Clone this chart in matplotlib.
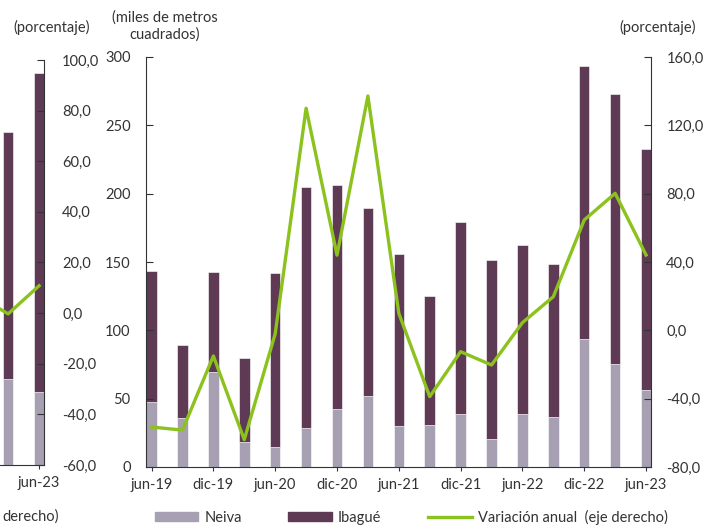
import matplotlib.pyplot as plt
import numpy as np
from matplotlib.patches import Patch
from matplotlib.lines import Line2D

plt.rcParams['font.family'] = ['Lato', 'DejaVu Sans']

# main chart data (quarterly)
periodos = ["jun-19", "sep-19", "dic-19", "mar-20", "jun-20", "sep-20", "dic-20", "mar-21", "jun-21",
            "sep-21", "dic-21", "mar-22", "jun-22", "sep-22", "dic-22", "mar-23", "jun-23"]
neiva = [47.8, 35.6, 69.8, 18.5, 14.4, 28.3, 42.5, 52.0, 30.0,
         30.7, 38.6, 20.5, 38.6, 36.4, 93.5, 75.2, 56.4]
total = [143.7, 89.3, 143.0, 80.0, 141.8, 205.2, 206.2, 189.8, 155.7,
         125.2, 179.3, 151.5, 162.5, 148.4, 293.5, 273.0, 232.8]
ibague = [t - n for t, n in zip(total, neiva)]
variacion = [-56.6, -58.4, -15.0, -64.0, -2.0, 130.0, 44.0, 137.2, 10.0,
             -38.8, -12.5, -20.3, 4.5, 19.7, 64.6, 80.2, 44.1]

# right edge of the neighbouring chart (cut off in the picture)
prev_neiva = [63.7, 54.1]
prev_total = [246.7, 290.4]
prev_ibague = [t - n for t, n in zip(prev_total, prev_neiva)]
prev_variacion = [7.0, -0.3, 10.8]

c_neiva = "#a7a0b3"
c_ibague = "#5e3a55"
c_green = "#8cc21d"
c_axis = "#333333"

W, H = 713, 527
fig = plt.figure(figsize=(W / 100, H / 100), dpi=100)

x = np.arange(len(periodos))
bw = 0.34
xl = (-0.18, 16.16)

# ---- main chart
ax = fig.add_axes([146 / W, 1 - 467 / H, 505 / W, 410 / H])
ax.bar(x, neiva, bw, color=c_neiva, edgecolor="white", linewidth=0.4)
ax.bar(x, ibague, bw, bottom=neiva, color=c_ibague, edgecolor="white", linewidth=0.4)
ax.set_xlim(*xl)
ax.set_ylim(0, 300)
ax.set_yticks(range(0, 301, 50))
ax.set_xticks(x[::2])
ax.set_xticklabels(periodos[::2])
ax.spines["top"].set_visible(False)
ax.spines["right"].set_visible(False)
ax.spines["left"].set_color(c_axis)
ax.spines["bottom"].set_color(c_axis)
ax.tick_params(axis="y", direction="in", colors=c_axis, labelsize=10.5, length=5, pad=11)
ax.tick_params(axis="x", direction="out", colors=c_axis, labelsize=10.5, length=3, pad=5)

ax2 = ax.twinx()
ax2.plot(x, variacion, color=c_green, lw=2.4)
ax2.set_ylim(-80, 160)
ax2.set_yticks(range(-80, 161, 40))
ax2.set_yticklabels([f"{v},0" for v in range(-80, 161, 40)])
for s in ["top", "left", "bottom"]:
    ax2.spines[s].set_visible(False)
ax2.spines["right"].set_color(c_axis)
ax2.tick_params(axis="y", direction="in", colors=c_axis, labelsize=10.5, length=5, pad=11)

fig.text(165 / W, 1 - 26 / H, "(miles de metros\ncuadrados)", ha="center", va="center",
         fontsize=10.5, color=c_axis, linespacing=1.2)
fig.text(658 / W, 1 - 27 / H, "(porcentaje)", ha="center", va="center", fontsize=10.5, color=c_axis)

# ---- neighbouring chart, only its right edge is in view
axp = fig.add_axes([(44 - 505) / W, 1 - 465 / H, 505 / W, 405 / H])
xp = np.array([15, 16])
axp.bar(xp, prev_neiva, bw, color=c_neiva, edgecolor="white", linewidth=0.4)
axp.bar(xp, prev_ibague, bw, bottom=prev_neiva, color=c_ibague, edgecolor="white", linewidth=0.4)
axp.set_xlim(*xl)
axp.set_ylim(0, 300)
axp.set_yticks([])
axp.set_xticks([16])
axp.set_xticklabels(["jun-23"])
for s in ["top", "left", "right"]:
    axp.spines[s].set_visible(False)
axp.spines["bottom"].set_color(c_axis)
axp.tick_params(axis="x", direction="out", colors=c_axis, labelsize=10.5, length=3, pad=5)
axp2 = axp.twinx()
axp2.plot([14, 15, 16], prev_variacion, color=c_green, lw=2.4)
axp2.set_ylim(-60, 100)
axp2.set_yticks(range(-60, 101, 20))
axp2.set_yticklabels([f"{v},0" for v in range(-60, 101, 20)])
for s in ["top", "left", "bottom"]:
    axp2.spines[s].set_visible(False)
axp2.spines["right"].set_color(c_axis)
axp2.tick_params(axis="y", direction="in", colors=c_axis, labelsize=10.5, length=5, pad=13)
fig.text(52 / W, 1 - 27 / H, "(porcentaje)", ha="center", va="center", fontsize=10.5, color=c_axis)
fig.text(31 / W, 1 - 517 / H, "derecho)", ha="center", va="center", fontsize=10.5, color=c_axis)

# ---- legend
handles = [Patch(color=c_neiva), Patch(color=c_ibague), Line2D([], [], color=c_green, lw=2.4)]
labels = ["Neiva", "Ibagué", "Variación anual  (eje derecho)"]
fig.legend(handles, labels, loc="center", bbox_to_anchor=(411 / W, 1 - 517 / H), ncol=3,
           frameon=False, fontsize=10.5, handlelength=3.0, handleheight=0.55,
           columnspacing=3.2, handletextpad=0.4, labelcolor=c_axis)

fig.savefig("out.png", dpi=100)
